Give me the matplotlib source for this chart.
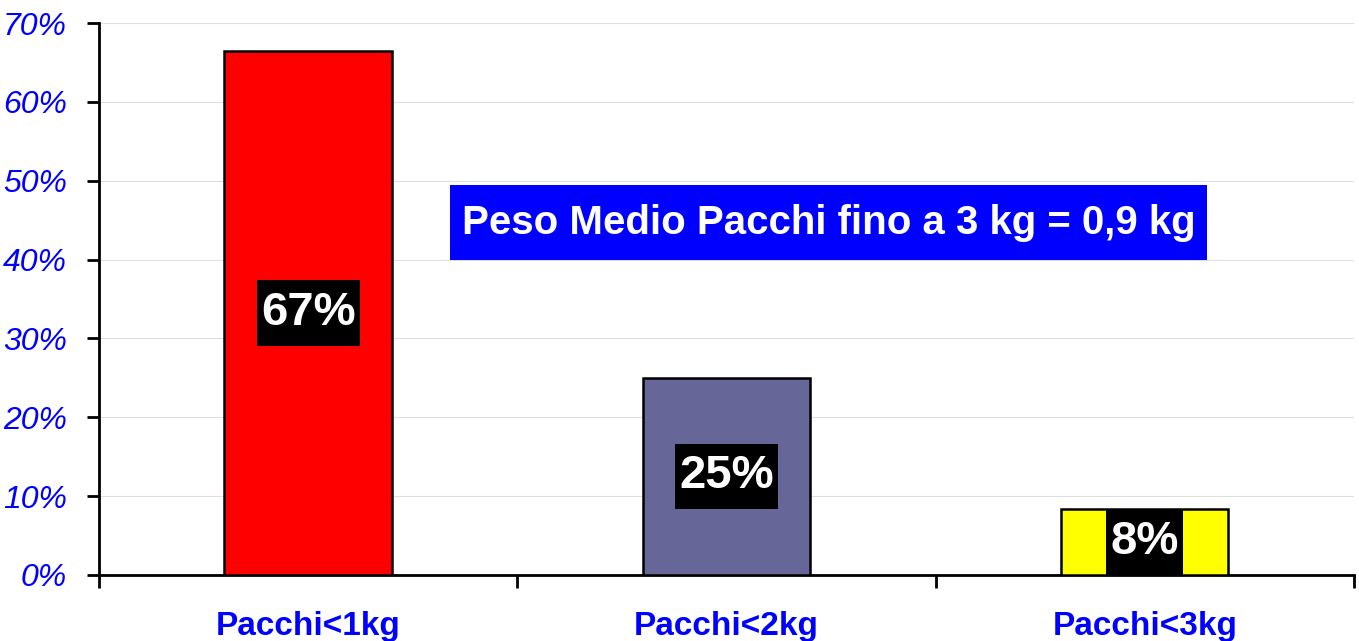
import matplotlib.pyplot as plt
from matplotlib.path import Path
from matplotlib.ticker import FixedLocator, NullFormatter

categories = ["Pacchi<1kg", "Pacchi<2kg", "Pacchi<3kg"]
values = [66.5, 25.0, 8.4]
labels = ["67%", "25%", "8%"]
colors = ["#FF0000", "#666699", "#FFFF00"]
yticks = [0, 10, 20, 30, 40, 50, 60, 70]
note = "Peso Medio Pacchi fino a 3 kg = 0,9 kg"

plt.rcParams['font.family'] = ['Liberation Sans', 'DejaVu Sans']


def padded_box(px, py):
    # rectangle with separate horizontal / vertical padding (fraction of font size)
    def box(x0, y0, width, height, mutation_size):
        dx = px * mutation_size
        dy = py * mutation_size
        x1, y1 = x0 - dx, y0 - dy
        x2, y2 = x0 + width + dx, y0 + height + dy
        return Path([(x1, y1), (x2, y1), (x2, y2), (x1, y2), (x1, y1)], closed=True)
    return box


fig = plt.figure(figsize=(13.59, 6.41), dpi=100)
ax = fig.add_axes([0.0728, 0.103, 0.9235, 0.861])

x = range(len(categories))
ax.bar(x, values, width=0.40, color=colors, edgecolor='black', linewidth=1.8, zorder=3)

for i, (v, lab) in enumerate(zip(values, labels)):
    ax.text(i, v / 2, lab, ha='center', va='center', color='white',
            fontsize=34, fontweight='bold', zorder=4,
            bbox=dict(boxstyle=padded_box(0.09, 0.23), facecolor='black', edgecolor='none'))

ax.text(1.244, 44.7, note, ha='center', va='center', color='white',
        fontsize=29, fontweight='bold', zorder=4,
        bbox=dict(boxstyle=padded_box(0.28, 0.45), facecolor='#0000FF', edgecolor='none'))

ax.set_xlim(-0.5, 2.5)
ax.set_ylim(0, 70)
ax.set_yticks(yticks)
ax.set_yticklabels([f"{t}%" for t in yticks], color='#0000FF', fontsize=23,
                   fontstyle='italic')
ax.grid(axis='y', color='#E0E0E0', linewidth=0.8, zorder=0)

ax.xaxis.set_major_locator(FixedLocator([-0.5, 0.5, 1.5, 2.5]))
ax.xaxis.set_major_formatter(NullFormatter())
ax.xaxis.set_minor_locator(FixedLocator(list(x)))
ax.set_xticklabels(categories, minor=True, color='#0000FF', fontsize=24,
                   fontweight='bold')
ax.tick_params(axis='x', which='minor', length=0, pad=26)
ax.tick_params(axis='x', which='major', length=9, width=2, direction='out')
ax.tick_params(axis='y', length=9, width=2, direction='out', pad=14)

for side in ['top', 'right']:
    ax.spines[side].set_visible(False)
for side in ['left', 'bottom']:
    ax.spines[side].set_linewidth(2)

plt.savefig('out.png', dpi=100)
